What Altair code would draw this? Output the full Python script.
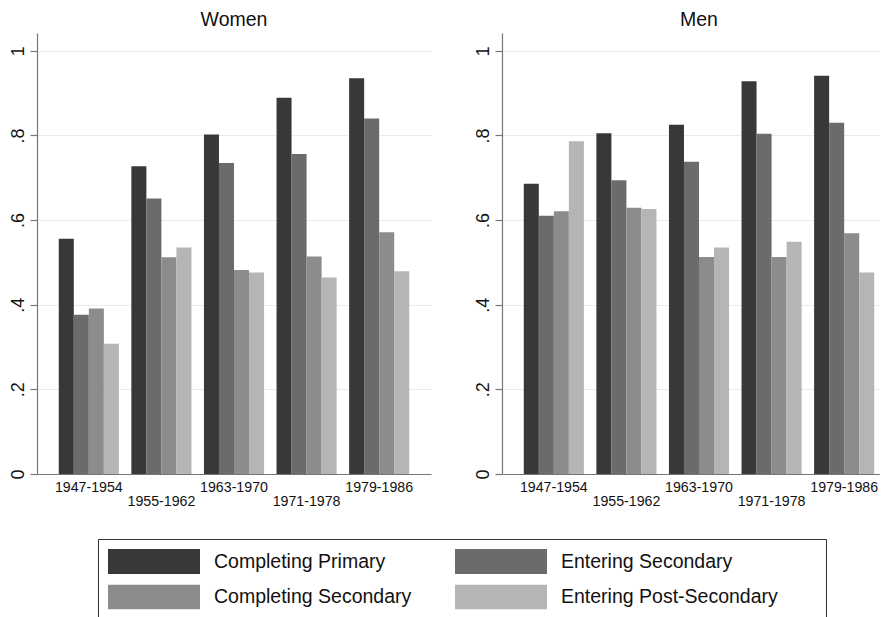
import altair as alt
import pandas as pd

cohorts = ["1947-1954", "1955-1962", "1963-1970", "1971-1978", "1979-1986"]
series = ["Completing Primary", "Entering Secondary", "Completing Secondary", "Entering Post-Secondary"]
colors = ["#383836", "#6b6b69", "#8c8c8c", "#b5b5b5"]
legend_order = ["Completing Primary", "Completing Secondary", "Entering Secondary", "Entering Post-Secondary"]

women_completing_primary = [0.556, 0.727, 0.802, 0.889, 0.935]
women_entering_secondary = [0.376, 0.651, 0.735, 0.756, 0.840]
women_completing_secondary = [0.391, 0.512, 0.482, 0.514, 0.571]
women_entering_postsecondary = [0.308, 0.535, 0.476, 0.464, 0.479]

men_completing_primary = [0.686, 0.805, 0.825, 0.928, 0.941]
men_entering_secondary = [0.610, 0.694, 0.738, 0.804, 0.830]
men_completing_secondary = [0.621, 0.629, 0.513, 0.513, 0.569]
men_entering_postsecondary = [0.786, 0.626, 0.535, 0.549, 0.476]

y_ticks = [0, 0.2, 0.4, 0.6, 0.8, 1.0]

rows = []
for sex, cols in [
    ("Women", [women_completing_primary, women_entering_secondary,
               women_completing_secondary, women_entering_postsecondary]),
    ("Men", [men_completing_primary, men_entering_secondary,
             men_completing_secondary, men_entering_postsecondary]),
]:
    for s, vals in zip(series, cols):
        for c, v in zip(cohorts, vals):
            rows.append({"sex": sex, "cohort": c, "series": s, "value": v})
df = pd.DataFrame(rows)

FONT = "Liberation Sans"
lower = cohorts[1::2]
lower_js = "[" + ",".join("'" + c + "'" for c in lower) + "]"
x_label_expr = f"indexof({lower_js}, datum.value) >= 0 ? ['', datum.label] : datum.label"
y_label_expr = "datum.value == 0 ? '0' : (datum.value == 1 ? '1' : replace(format(datum.value, '.1f'), '0.', '.'))"

legend = alt.Legend(
    orient="none", legendX=61, legendY=506, columns=2, title="\u00a0",
    values=legend_order,
    titleOrient="right", titlePadding=38, titleFontSize=19,
    symbolType="M-1,-0.2717H1V0.2717H-1Z", symbolSize=8464, clipHeight=25,
    symbolStrokeWidth=0, symbolOpacity=1,
    rowPadding=10.5, columnPadding=43, labelOffset=14,
    labelFontSize=19.5, labelFont=FONT, labelColor="#111111", labelLimit=400,
    strokeColor="#333333", padding=10, fillColor="white",
)


def panel(sex, width, pad_outer, align, title_dx):
    return alt.Chart(df).transform_filter(alt.datum.sex == sex).mark_bar().encode(
        x=alt.X("cohort:N", sort=cohorts, title=None,
                scale=alt.Scale(paddingInner=0.172, paddingOuter=pad_outer, align=align),
                axis=alt.Axis(labelAngle=0, ticks=False, labelExpr=x_label_expr,
                              labelOverlap=False, labelBound=False,
                              labelBaseline="top", labelLineHeight=14.5,
                              labelPadding=6, labelFontSize=14.2, grid=False)),
        xOffset=alt.XOffset("series:N", sort=series, scale=alt.Scale(paddingInner=0, paddingOuter=0)),
        y=alt.Y("value:Q", title=None,
                scale=alt.Scale(domain=[0, 1.042], nice=False, zero=True),
                axis=alt.Axis(values=y_ticks, labelExpr=y_label_expr, labelAngle=270,
                              labelAlign="center", labelBaseline="bottom",
                              labelFontSize=18, labelPadding=3, tickSize=7,
                              grid=True, gridColor="#ebebeb", gridWidth=1.2)),
        color=alt.Color("series:N", sort=series,
                        scale=alt.Scale(domain=series, range=colors), legend=legend),
    ).properties(
        width=width, height=441,
        title=alt.TitleParams(sex, fontSize=19.5, fontWeight="normal", font=FONT,
                              color="#111111", offset=3, anchor="middle", dx=title_dx),
    )


chart = alt.hconcat(
    panel("Women", 394, 0.3, 0.5, 0),
    panel("Men", 378, 0.19, 0.79, 8),
    spacing=42,
).properties(
    padding={"left": 0, "top": 1, "right": 0, "bottom": 0}
).configure_view(stroke=None).configure_axis(
    labelFont=FONT, labelColor="#111111", domainColor="#777777", tickColor="#777777",
    domainWidth=1.2, tickWidth=1.2,
)

chart.save("out.html", embed_options={"renderer": "svg", "actions": False})
